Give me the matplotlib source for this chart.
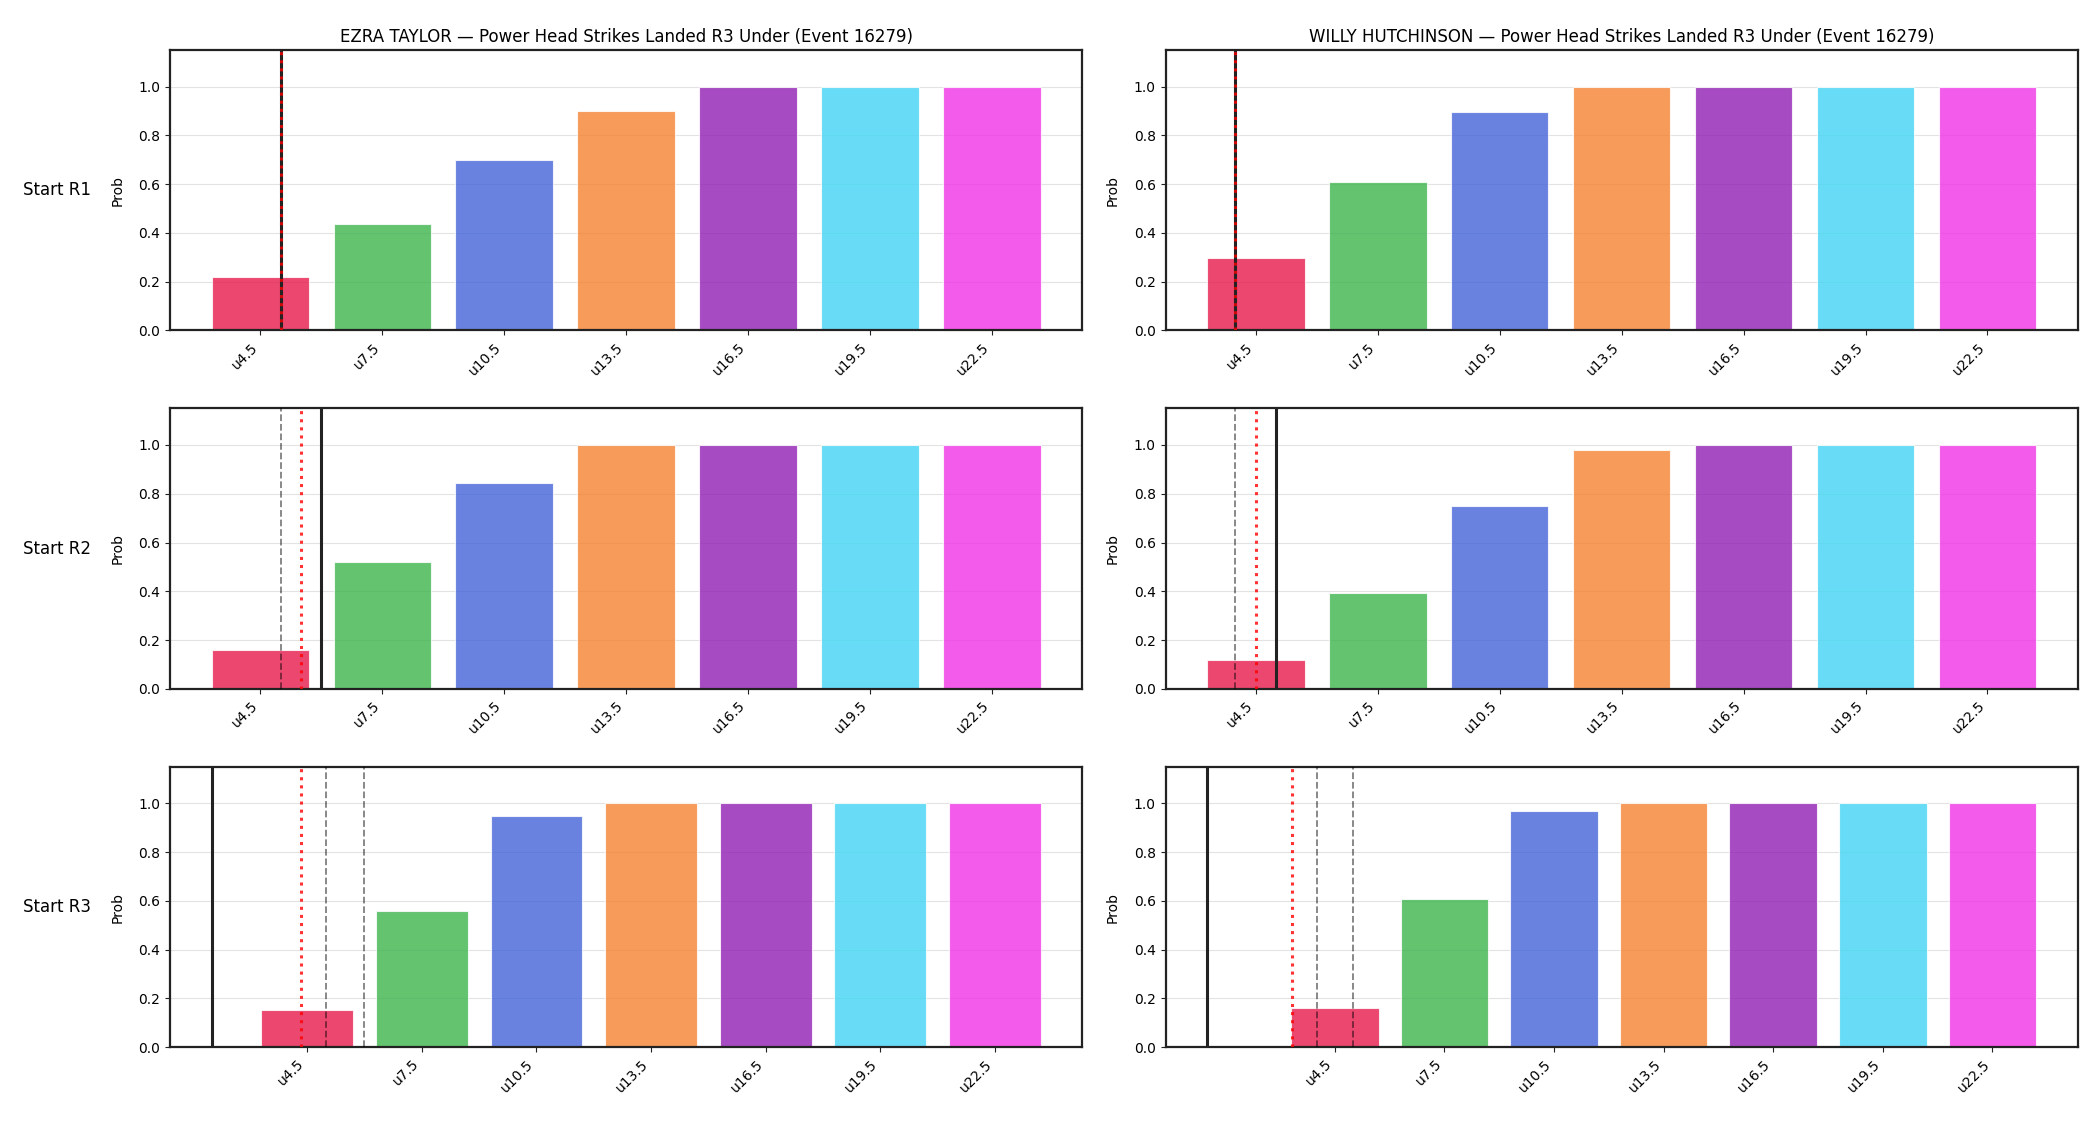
import numpy as np
import matplotlib
matplotlib.use("Agg")
import matplotlib.pyplot as plt

# under lines and bar colours
cats = ['u4.5', 'u7.5', 'u10.5', 'u13.5', 'u16.5', 'u19.5', 'u22.5']
line_vals = [4.5, 7.5, 10.5, 13.5, 16.5, 19.5, 22.5]
colors = ['#e6194B', '#3cb44b', '#4363d8', '#f58231', '#911eb4', '#42d4f4', '#f032e6']

fighters = ['EZRA TAYLOR', 'WILLY HUTCHINSON']
rows = ['Start R1', 'Start R2', 'Start R3']

# probabilities, one list per start round
ezra_probs = [
    [0.22, 0.438, 0.70, 0.90, 1.0, 1.0, 1.0],
    [0.16, 0.52, 0.845, 1.0, 1.0, 1.0, 1.0],
    [0.153, 0.559, 0.948, 1.0, 1.0, 1.0, 1.0],
]
willy_probs = [
    [0.295, 0.607, 0.895, 1.0, 1.0, 1.0, 1.0],
    [0.119, 0.393, 0.75, 0.98, 1.0, 1.0, 1.0],
    [0.161, 0.608, 0.969, 1.0, 1.0, 1.0, 1.0],
]

# reference markers (strike counts)
ezra_solid = [5.0, 6.0, 2.0]
ezra_dotted = [5.0, 5.5, 4.33]
ezra_dashed = [[5.0, 5.0], [5.0, 6.0], [5.0, 6.0]]
willy_solid = [4.0, 5.0, 1.0]
willy_dotted = [4.0, 4.5, 3.32]
willy_dashed = [[4.0, 4.0], [4.0, 5.0], [4.0, 5.0]]

probs = [ezra_probs, willy_probs]
solids = [ezra_solid, willy_solid]
dotteds = [ezra_dotted, willy_dotted]
dasheds = [ezra_dashed, willy_dashed]


def to_pos(v):
    # map a strike count onto the category axis
    step = line_vals[1] - line_vals[0]
    return (v - line_vals[0]) / step


fig, axes = plt.subplots(3, 2, figsize=(21, 11.25), dpi=100)
fig.subplots_adjust(left=0.081, right=0.9894, top=0.9556, bottom=0.0691,
                    wspace=0.0913, hspace=0.278)

x = np.arange(len(cats))
for c in range(2):
    for r in range(3):
        ax = axes[r, c]
        ax.bar(x, probs[c][r], width=0.8, color=colors, alpha=0.8,
               edgecolor='white', linewidth=0.8, zorder=2)
        for d in dasheds[c][r]:
            ax.axvline(to_pos(d), color='black', alpha=0.5, linestyle='--',
                       linewidth=1.3, zorder=3)
        ax.axvline(to_pos(solids[c][r]), color='#222222', linewidth=2.2, zorder=4)
        ax.axvline(to_pos(dotteds[c][r]), color='red', alpha=0.8, linestyle=':',
                   linewidth=2.2, zorder=5)

        ax.set_ylim(0, 1.15)
        ax.set_xticks(x)
        ax.set_xticklabels(cats, rotation=45, ha='right', fontsize=10)
        ax.tick_params(axis='y', labelsize=10)
        ax.tick_params(colors='#222222', labelcolor='black')
        ax.set_ylabel('Prob', fontsize=10, labelpad=10)
        ax.grid(axis='y', color='#dddddd', linewidth=0.8, alpha=0.8)
        ax.set_axisbelow(True)
        for s in ax.spines.values():
            s.set_linewidth(1.6)
            s.set_color('#222222')

        if r == 0:
            ax.set_title(fighters[c] + ' \u2014 Power Head Strikes Landed R3 Under (Event 16279)',
                         fontsize=12)
        if c == 0:
            pos = ax.get_position()
            fig.text(0.011, (pos.y0 + pos.y1) / 2, rows[r], ha='left', va='center',
                     fontsize=12)

plt.savefig('out.png', dpi=100)
